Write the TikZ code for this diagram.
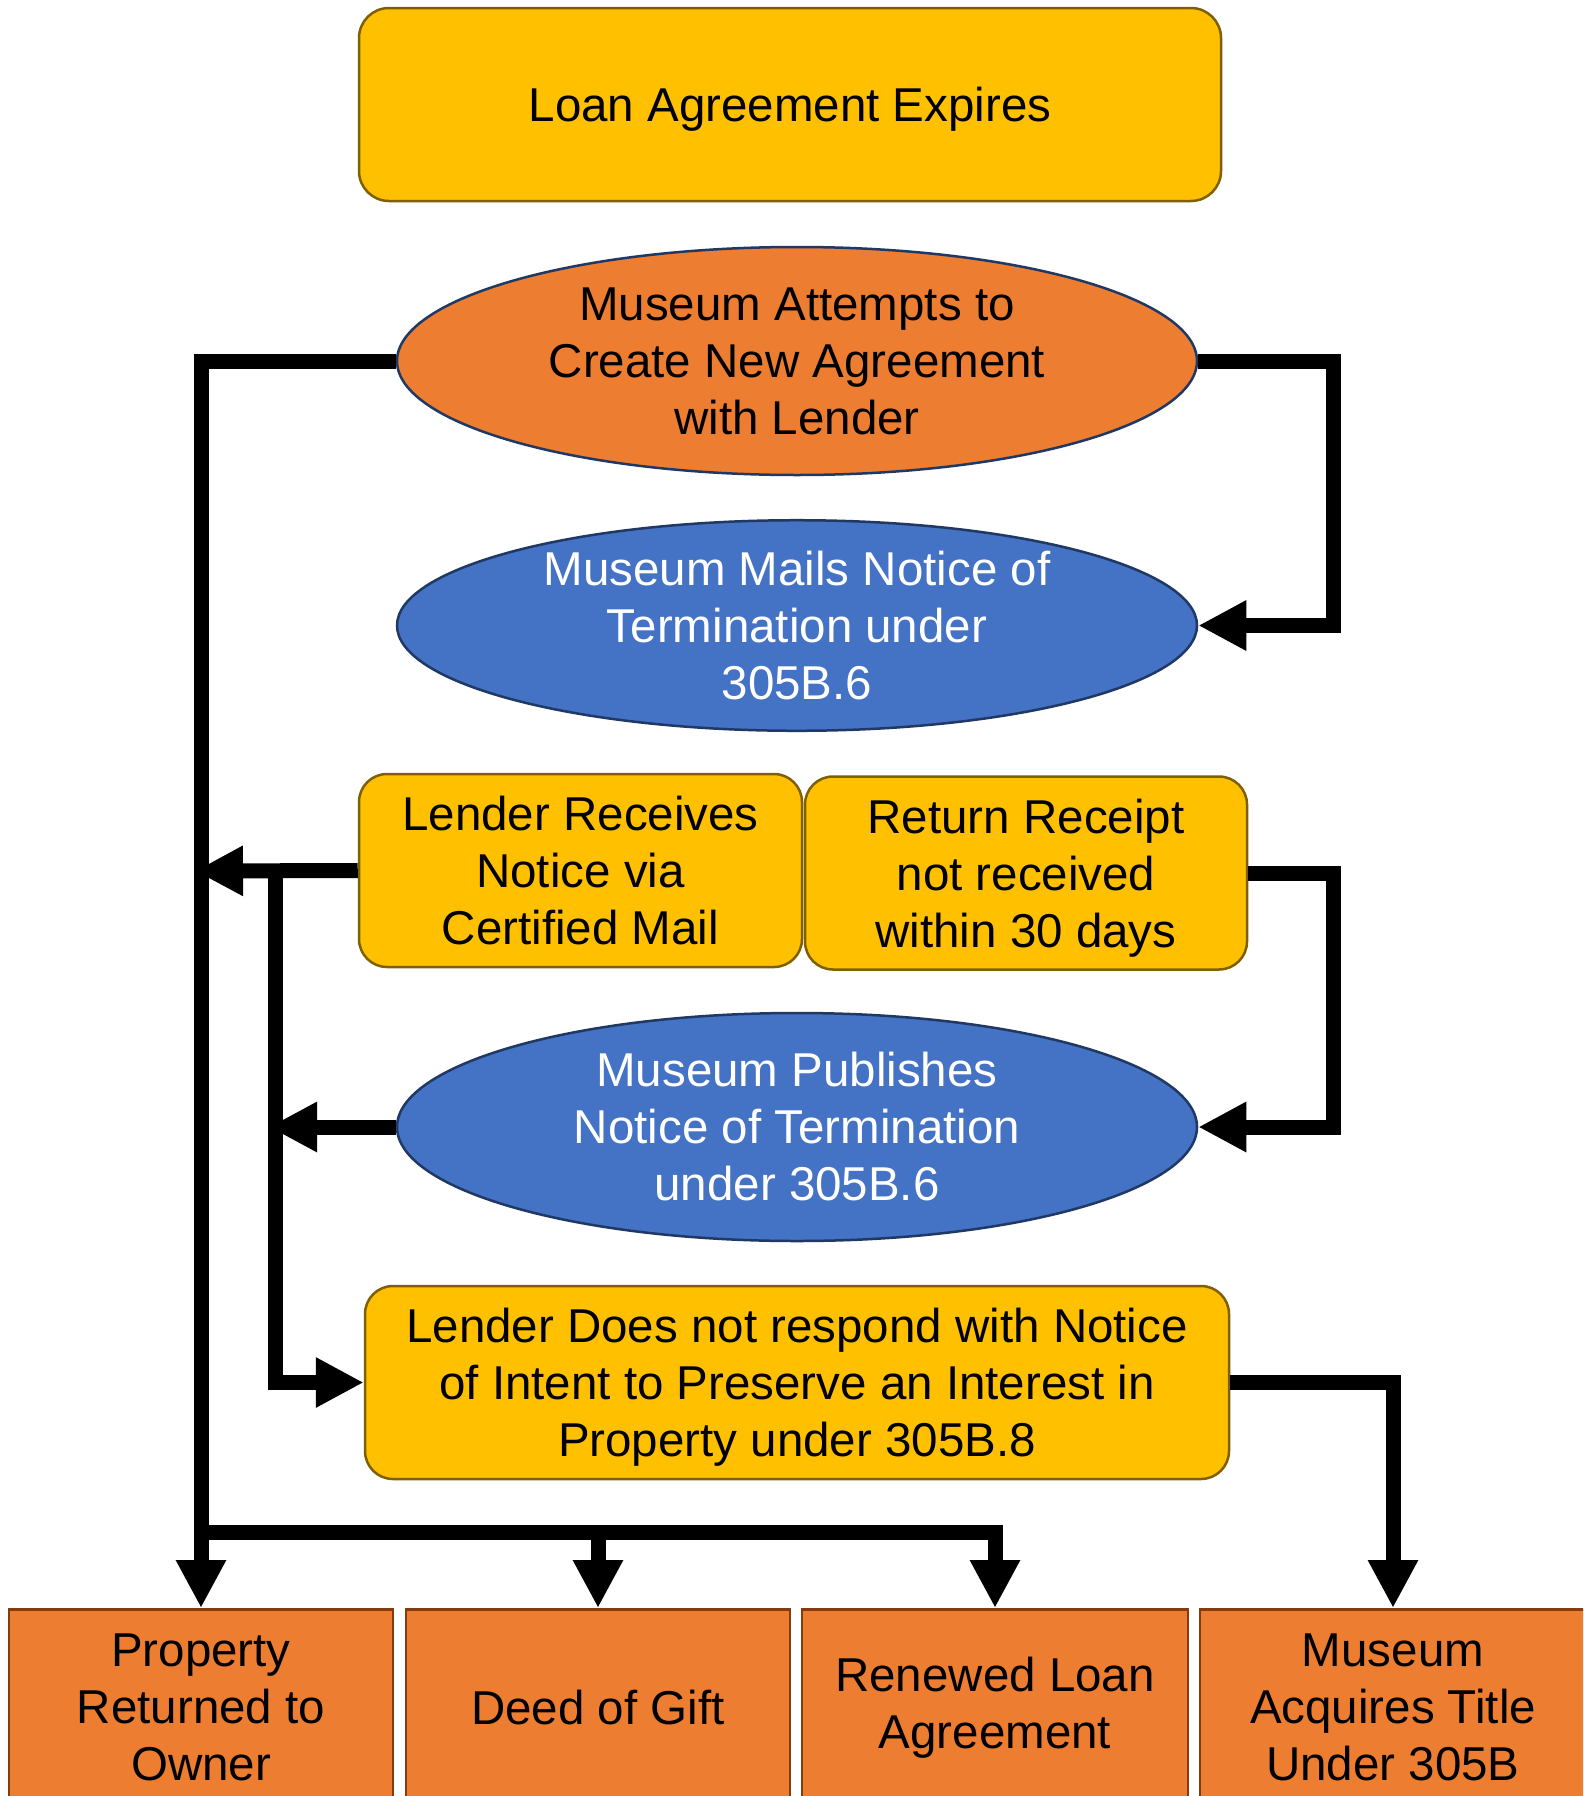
\documentclass[tikz,border=0pt]{standalone}
\usepackage{fontspec}
\setmainfont{Liberation Sans}
\usetikzlibrary{arrows.meta,shapes.geometric}
\definecolor{yel}{HTML}{FFC000}
\definecolor{yelb}{HTML}{7F6000}
\definecolor{org}{HTML}{ED7D31}
\definecolor{orgb}{HTML}{843C0C}
\definecolor{blu}{HTML}{4472C4}
\definecolor{elb}{HTML}{1F3864}
\begin{document}
\begin{tikzpicture}[x=1pt,y=-1pt,
  every node/.style={font=\fontsize{47.5}{57}\selectfont, align=center, inner sep=0pt},
  ybox/.style={draw=yelb, fill=yel, line width=2.5pt, rounded corners=28pt, minimum height=193pt},
  obox/.style={draw=orgb, fill=org, line width=2.5pt, minimum width=384pt, minimum height=196pt},
  oell/.style={ellipse, draw=elb, fill=org, line width=2.5pt, minimum width=800pt},
  bell/.style={ellipse, draw=elb, fill=blu, line width=2.5pt, minimum width=800pt, text=white},
  conn/.style={line width=15pt, -{Triangle[length=48pt,width=47pt]}},
  plain/.style={line width=15pt}
]
\useasboundingbox (0,0) rectangle (1583,1796);
\clip (0,0) rectangle (1583,1796);
\fill[white] (0,0) rectangle (1583,1796);

% nodes
\node[ybox, minimum width=862pt, rounded corners=30pt, text depth=0pt] (top) at (790,104.5) {Loan Agreement Expires};
\node[oell, minimum height=228pt] (e1) at (797,361) {Museum Attempts to\\Create New Agreement\\with Lender};
\node[bell, minimum height=209pt] (e2) at (797,625.5) {Museum Mails Notice of\\Termination under\\305B.6};
\node[ybox, minimum width=443pt] (lr) at (580.5,870.5) {Lender Receives\\Notice via\\Certified Mail};
\node[ybox, minimum width=442pt, text depth=0pt] (rr) at (1026,873) {Return Receipt\\not received\\within 30 days};
\node[bell, minimum height=228pt] (e3) at (797,1127) {Museum Publishes\\Notice of Termination\\under 305B.6};
\node[ybox, minimum width=864pt, text depth=0pt] (nr) at (797,1382.5) {Lender Does not respond with Notice\\of Intent to Preserve an Interest in\\Property under 305B.8};

\node[obox, anchor=north] (b1) at (201,1608) {Property\\Returned to\\Owner};
\node[obox, anchor=north] (b2) at (598,1608) {Deed of Gift};
\node[obox, anchor=north, minimum width=386pt] (b3) at (995,1608) {Renewed Loan\\Agreement};
\node[obox, anchor=north, minimum width=386pt] (b4) at (1393,1608) {Museum\\Acquires Title\\Under 305B};

% junction coordinates
\coordinate (outerL) at (195,871);
\coordinate (busL) at (201,1532);
\coordinate (busG) at (598,1532);
\coordinate (innerT) at (275,871);
\coordinate (innerA) at (269,1127);
\coordinate (r1) at (1333,361);
\coordinate (r2) at (1333,873);

% connectors
\draw[conn] (e1.west) -| (b1.north);
\draw[conn] (busL) -| (b3.north);
\draw[conn] (busG) -- (b2.north);
\draw[conn] (e1.east) -- (r1) |- (e2.east);
\draw[conn] (rr.east) -- (r2) |- (e3.east);
\draw[conn] (lr.west) -- (outerL);
\draw[conn] (innerT) |- (nr.west);
\draw[conn] (e3.west) -- (innerA);
\draw[conn] (nr.east) -| (b4.north);
\end{tikzpicture}
\end{document}
